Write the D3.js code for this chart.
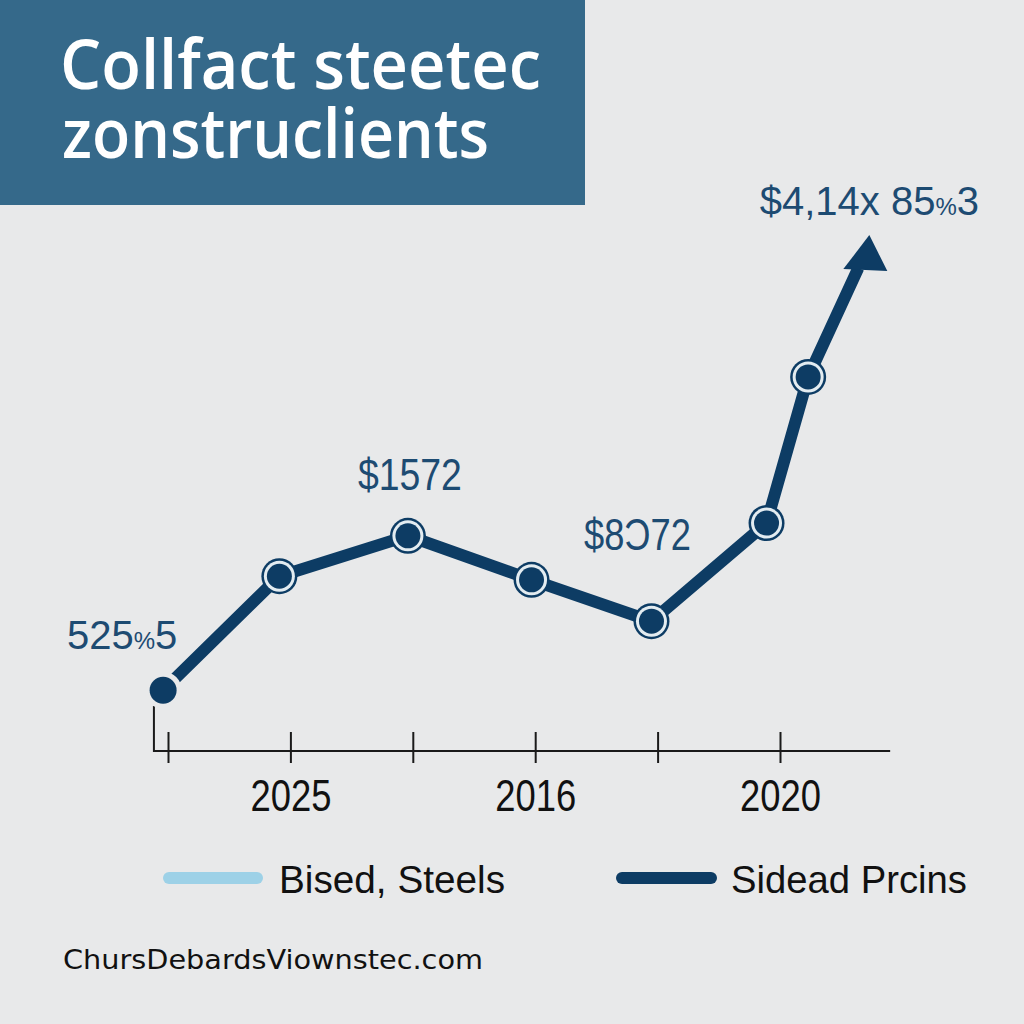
<!DOCTYPE html>
<html><head><meta charset="utf-8">
<script src="https://cdn.jsdelivr.net/npm/d3@7"></script>
<style>html,body{margin:0;padding:0;background:#e8e9ea;} svg{display:block}</style>
</head><body>
<svg id="chart" width="1024" height="1024"></svg>
<script>
// ---- data ----
const titleLines = ["Collfact steetec", "zonstruclients"];
const xIndex = [-0.04, 0.91, 1.96, 2.97, 3.95, 4.89, 5.23, 5.64];
const values = [11.9, 34.2, 42.1, 33.5, 25.4, 44.6, 73.2, 94.5];
const tickPositions = [0, 1, 2, 3, 4, 5];
const tickLabels = ["", "2025", "", "2016", "", "2020"];
const labelPoints = [0, 2, 4, 7];
const labelTexts = [["525", "%", "5"], ["$1572"], ["$8\u018672"], ["$4,14x 85", "%", "3"]];
const seriesNames = ["Bised, Steels", "Sidead Prcins"];
const seriesColors = ["#9dd1e7", "#0d3c64"];
const footerText = "ChursDebardsViownstec.com";

// ---- layout ----
const svg = d3.select("#chart");
const W = 1024, H = 1024;
const bg = "#e8e9ea", navy = "#0d3c64", labelColor = "#1d4b72";
svg.append("rect").attr("width", W).attr("height", H).attr("fill", bg);

// title banner
svg.append("rect").attr("x", 0).attr("y", 0).attr("width", 585).attr("height", 205).attr("fill", "#35698a");
const titleLayout = [{x: 60, y: 89, len: 481}, {x: 62, y: 158, len: 427}];
const title = svg.append("text")
  .attr("font-family", "'Open Sans', 'Noto Sans', sans-serif").attr("font-weight", 600)
  .attr("font-size", 69).attr("fill", "#ffffff");
title.selectAll("tspan").data(titleLines).join("tspan")
  .attr("x", (d, i) => titleLayout[i].x).attr("y", (d, i) => titleLayout[i].y)
  .attr("textLength", (d, i) => titleLayout[i].len).attr("lengthAdjust", "spacingAndGlyphs")
  .text(d => d);

const x = d3.scaleLinear().domain([0, 5]).range([168, 780]);
const y = d3.scaleLinear().domain([0, 100]).range([751, 240]);

// axis
const axisG = svg.append("g").attr("transform", `translate(0,${y(0)})`);
axisG.call(d3.axisBottom(x).tickValues(tickPositions).tickFormat((d, i) => tickLabels[i]).tickSize(12));
axisG.select(".domain").remove();
axisG.selectAll(".tick line").attr("y1", -19).attr("stroke", "#1a1a1a").attr("stroke-width", 2);
axisG.selectAll(".tick text").attr("y", 60).attr("dy", 0)
  .attr("font-family", "'Liberation Sans', Arial, sans-serif").attr("font-size", 44).attr("fill", "#111")
  .attr("textLength", d => tickLabels[d] ? 81 : null).attr("lengthAdjust", "spacingAndGlyphs");
svg.append("path")
  .attr("d", `M${x(-0.115)},${y(0) - 45}V${y(0)}H${x(5.9)}`)
  .attr("fill", "none").attr("stroke", "#1a1a1a").attr("stroke-width", 2);

// line
const pts = xIndex.map((d, i) => [x(d), y(values[i])]);
svg.append("path").attr("d", d3.line()(pts))
  .attr("fill", "none").attr("stroke", navy).attr("stroke-width", 12).attr("stroke-linejoin", "miter");

// arrow head at last point
const last = pts[pts.length - 1];
svg.append("path")
  .attr("transform", `translate(${last[0]},${last[1]})`)
  .attr("d", "M11,-33L-15,1L29,3Z").attr("fill", navy);

// markers
const first = pts[0];
svg.append("circle").attr("cx", first[0]).attr("cy", first[1]).attr("r", 13.5)
  .attr("fill", navy).attr("stroke", bg).attr("stroke-width", 10);
svg.append("circle").attr("cx", first[0]).attr("cy", first[1]).attr("r", 13.5).attr("fill", navy);
const ringPts = pts.slice(1, pts.length - 1);
const mk = svg.selectAll("g.mk").data(ringPts).join("g").attr("class", "mk")
  .attr("transform", d => `translate(${d[0]},${d[1]})`);
mk.append("circle").attr("r", 18).attr("fill", navy);
mk.append("circle").attr("r", 15.5).attr("fill", "#e3ecf1");
mk.append("circle").attr("r", 12.5).attr("fill", navy);

// value labels
const labelOffsets = [[-41, -41, 109], [2, -46, 104], [-14, -71, 107], [11, -53, 212]];
labelPoints.forEach((pi, k) => {
  const parts = labelTexts[k];
  const t = svg.append("text")
    .attr("x", pts[pi][0] + labelOffsets[k][0]).attr("y", pts[pi][1] + labelOffsets[k][1])
    .attr("text-anchor", "middle")
    .attr("font-family", "'Liberation Sans', Arial, sans-serif")
    .attr("font-size", parts.length > 1 ? 40 : 45)
    .attr("fill", labelColor);
  if (parts.length > 1) {
    parts.forEach(s => t.append("tspan").attr("font-size", s === "%" ? 24 : 40).text(s));
  } else {
    t.attr("textLength", labelOffsets[k][2]).attr("lengthAdjust", "spacingAndGlyphs").text(parts[0]);
  }
});

// legend
const legendLayout = [{x1: 169, x2: 257, tx: 279, len: 226}, {x1: 622, x2: 711, tx: 731, len: 236}];
const lg = svg.selectAll("g.lg").data(seriesNames).join("g").attr("class", "lg");
lg.append("line").attr("x1", (d, i) => legendLayout[i].x1).attr("x2", (d, i) => legendLayout[i].x2)
  .attr("y1", 878).attr("y2", 878).attr("stroke", (d, i) => seriesColors[i])
  .attr("stroke-width", 12).attr("stroke-linecap", "round");
lg.append("text").attr("x", (d, i) => legendLayout[i].tx).attr("y", 893)
  .attr("textLength", (d, i) => legendLayout[i].len).attr("lengthAdjust", "spacingAndGlyphs")
  .attr("font-family", "'Liberation Sans', Arial, sans-serif").attr("font-size", 39)
  .attr("fill", "#111").text(d => d);

// footer
svg.append("text").attr("x", 63).attr("y", 969).attr("textLength", 420).attr("lengthAdjust", "spacingAndGlyphs")
  .attr("font-family", "'DejaVu Sans', sans-serif").attr("font-size", 27).attr("fill", "#111").text(footerText);
</script>
</body></html>
